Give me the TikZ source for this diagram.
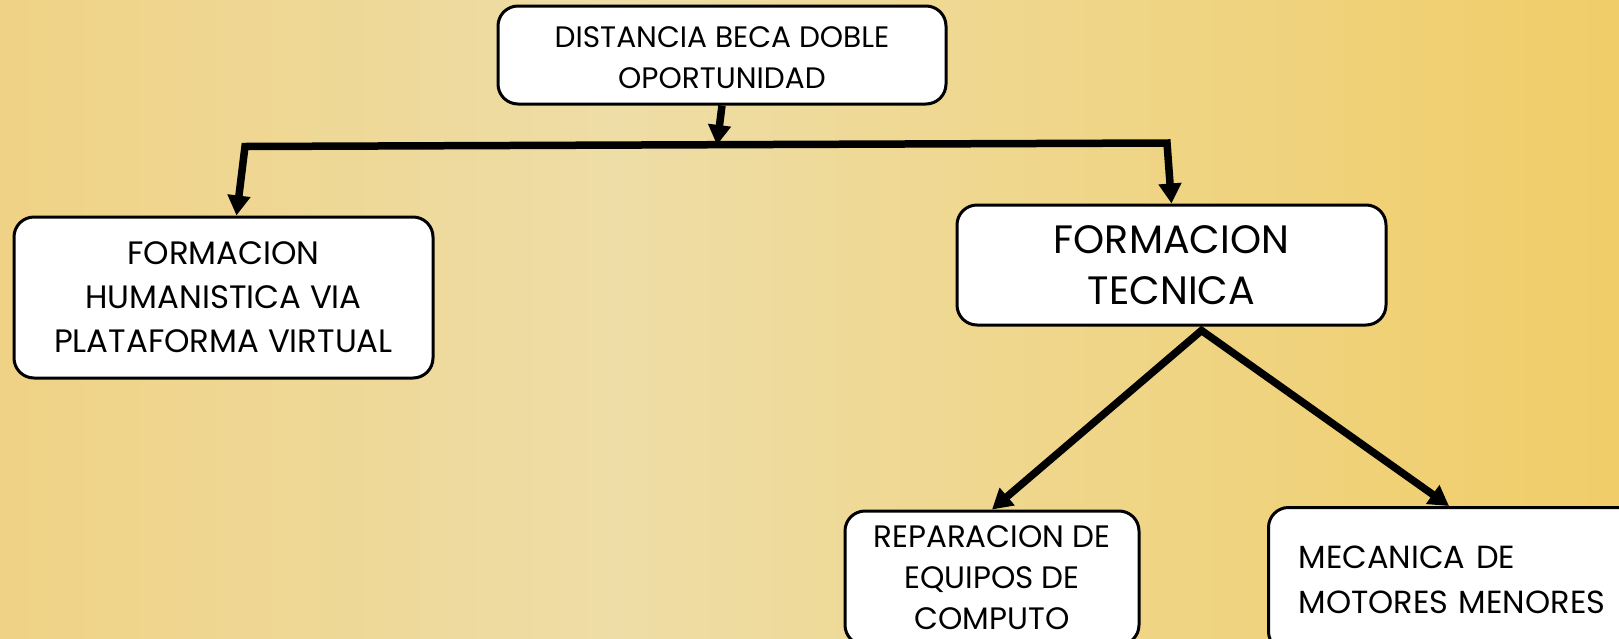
\documentclass[tikz,border=0pt]{standalone}
\usepackage{fontspec}
\setmainfont{Poppins}
\usetikzlibrary{arrows.meta,calc}
\definecolor{bgL}{HTML}{EFD285}
\definecolor{bgM}{HTML}{EEDDA6}
\definecolor{bgR}{HTML}{F0CD68}
\pgfdeclarehorizontalshading{bgshade}{100bp}{color(0bp)=(bgL); color(25bp)=(bgL); color(44bp)=(bgM); color(75bp)=(bgR); color(100bp)=(bgR)}
\tikzset{
  box/.style={draw=black, line width=1.5pt, fill=white, rounded corners=10pt, align=center, inner sep=0pt},
  conn/.style={draw=black, line width=3.75pt, line join=miter},
  tip/.tip={Triangle[width=11pt,length=10pt]}
}
\begin{document}
\begin{tikzpicture}[x=0.5pt,y=-0.5pt]
\useasboundingbox (0,0) rectangle (1619,638);
\clip (0,0) rectangle (1619,638);
\shade[shading=bgshade] (0,0) rectangle (1619,638);

\node[box, minimum width=224pt, minimum height=49pt, font=\fontsize{14.8}{20.5}\selectfont] (top) at (722,55) {\rule{0pt}{13pt}DISTANCIA BECA DOBLE\\OPORTUNIDAD};
\node[box, minimum width=209.5pt, minimum height=80.5pt, font=\fontsize{16.2}{22}\selectfont] (hum) at (223.5,297.5) {FORMACION\\HUMANISTICA VIA\\PLATAFORMA VIRTUAL};
\node[box, minimum width=214.5pt, minimum height=60pt, font=\fontsize{19.8}{25.5}\selectfont] (tec) at (1171.5,265) {FORMACION\\TECNICA};
\node[box, minimum width=147pt, minimum height=67pt, font=\fontsize{15.5}{20.5}\selectfont] (rep) at (992,578) {REPARACION DE\\EQUIPOS DE\\COMPUTO};
\node[box, anchor=north west, text width=175pt, inner xsep=15pt, minimum height=72pt, align=left, font=\fontsize{16}{22.5}\selectfont] (mec) at (1267,506) {MECANICA DE\\MOTORES MENORES};

\coordinate (jm) at (717,145);
\coordinate (jl) at (245,146.5);
\coordinate (jr) at (1167,143);
\coordinate (humtip) at ([xshift=6.5pt]hum.north);
\coordinate (apex) at ([xshift=15pt,yshift=-2pt]tec.south);
\coordinate (mectip) at ([xshift=91pt]mec.north west);

\draw[conn, -{tip}] (top.south) -- (jm);
\draw[conn, {tip}-{tip}] (humtip) -- (jl) -- (jr) -- (tec.north);
\draw[conn, {tip}-{tip}] (rep.north) -- (apex) -- (mectip);
\end{tikzpicture}
\end{document}
